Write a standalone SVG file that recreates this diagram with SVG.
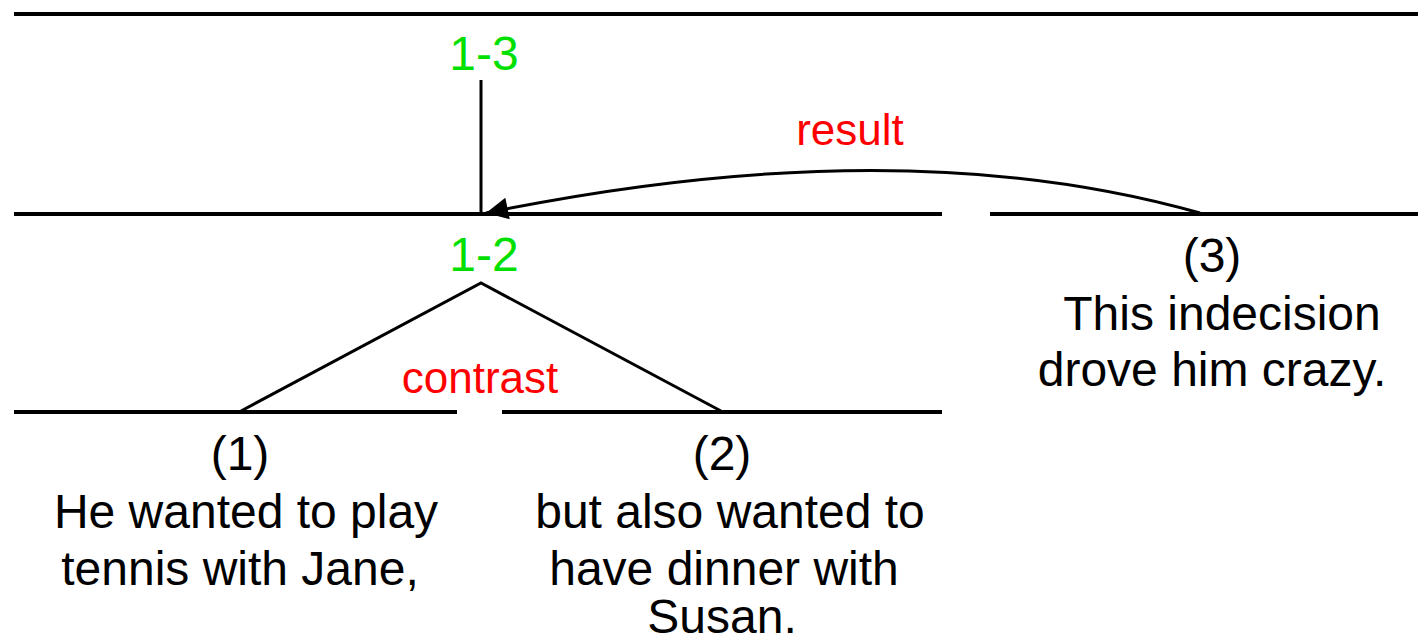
<svg xmlns="http://www.w3.org/2000/svg" width="1418" height="644" viewBox="0 0 1418 644">
<style>
.ln{stroke:#000;stroke-width:4;fill:none}
.thin{stroke:#000;stroke-width:3;fill:none}
.t{font-family:"Liberation Sans",Arial,sans-serif;font-size:48px;fill:#000;text-anchor:middle}
.g{font-family:"Liberation Sans",Arial,sans-serif;font-size:48px;fill:#00e000;text-anchor:middle}
.r{font-family:"Liberation Sans",Arial,sans-serif;font-size:44px;fill:#ff0000;text-anchor:middle}
</style>
<defs>
<marker id="ah2" viewBox="0 0 10 10" refX="10" refY="5" markerWidth="30" markerHeight="22" markerUnits="userSpaceOnUse" orient="auto">
<path d="M0,0 L10,5 L0,10 z" fill="#000"/>
</marker>
</defs>
<rect width="1418" height="644" fill="#fff"/>
<g id="n13">
<line class="ln" x1="14" y1="14" x2="1418" y2="14"/>
<text class="g" x="484" y="70">1-3</text>
</g>
<g id="n12">
<line class="ln" x1="14" y1="214" x2="942" y2="214"/>
<text class="g" x="484" y="271">1-2</text>
</g>
<g id="n3">
<line class="ln" x1="990" y1="214" x2="1418" y2="214"/>
<text class="t" x="1212" y="272">(3)</text>
<text class="t" x="1222" y="330">This indecision</text>
<text class="t" x="1212" y="386">drove him crazy.</text>
</g>
<g id="n1">
<line class="ln" x1="14" y1="412" x2="457" y2="412"/>
<text class="t" x="240" y="470">(1)</text>
<text class="t" x="246" y="528">He wanted to play</text>
<text class="t" x="240" y="585">tennis with Jane,</text>
</g>
<g id="n2">
<line class="ln" x1="502" y1="412" x2="942" y2="412"/>
<text class="t" x="722" y="470">(2)</text>
<text class="t" x="730" y="528">but also wanted to</text>
<text class="t" x="724" y="585">have dinner with</text>
<text class="t" x="722" y="633">Susan.</text>
</g>
<g id="connectors">
<line class="thin" x1="481" y1="80" x2="481" y2="214"/>
<path class="thin" d="M241,411 L481,283 L721,411"/>
<text class="r" x="480" y="393">contrast</text>
<path class="thin" d="M1200,213 Q900,128 486,213" marker-end="url(#ah2)"/>
<text class="r" x="850" y="145">result</text>
</g>
</svg>
